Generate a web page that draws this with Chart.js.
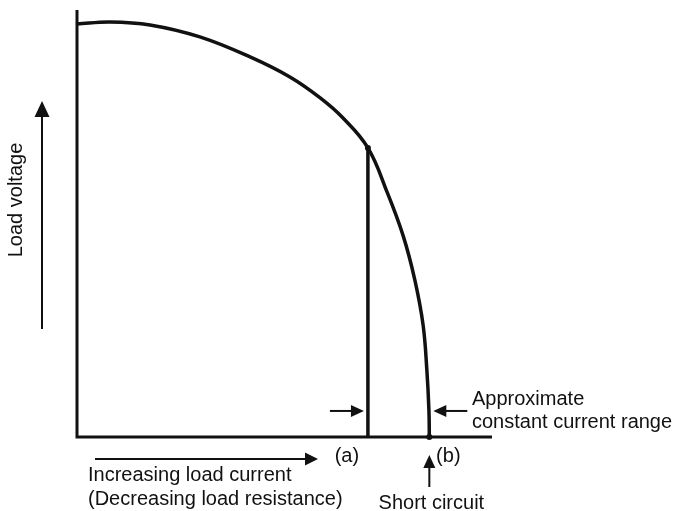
<!DOCTYPE html>
<html>
<head>
<meta charset="utf-8">
<script src="https://cdn.jsdelivr.net/npm/chart.js@4/dist/chart.umd.min.js"></script>
<style>
  html, body { margin: 0; padding: 0; background: #fff; }
  #wrap { width: 679px; height: 511px; }
</style>
</head>
<body>
<div id="wrap"><canvas id="chart" width="679" height="511"></canvas></div>
<script>
// load current (0..100, arbitrary units) vs load voltage (0..100)
const currentX = [0, 7.95, 17.6, 29.6, 41.7, 51.3, 58.6, 64.1, 70.1, 74.7, 78.6, 81.4, 83.4, 84.3, 84.8, 84.9];
const voltageY = [96.7, 97.2, 96.5, 93.7, 89.0, 84.3, 79.4, 74.7, 67.7, 57.4, 47.1, 36.8, 26.2, 15.7, 6.3, 0];

// point (a) where the constant current range starts, (b) short circuit
const pointA = { x: 70.1, y: 67.7 };
const pointB = { x: 84.9, y: 0 };
const rangeArrowY = 6.1;

const FONT = '20px "Liberation Sans", Arial, sans-serif';
const INK = '#111';

function arrow(ctx, x1, y1, x2, y2, headLen, headW) {
  const ang = Math.atan2(y2 - y1, x2 - x1);
  ctx.beginPath();
  ctx.moveTo(x1, y1);
  ctx.lineTo(x2 - Math.cos(ang) * headLen * 0.8, y2 - Math.sin(ang) * headLen * 0.8);
  ctx.stroke();
  ctx.beginPath();
  ctx.moveTo(x2, y2);
  ctx.lineTo(x2 - Math.cos(ang) * headLen - Math.sin(ang) * headW / 2,
             y2 - Math.sin(ang) * headLen + Math.cos(ang) * headW / 2);
  ctx.lineTo(x2 - Math.cos(ang) * headLen + Math.sin(ang) * headW / 2,
             y2 - Math.sin(ang) * headLen - Math.cos(ang) * headW / 2);
  ctx.closePath();
  ctx.fill();
}

const diagram = {
  id: 'diagram',
  beforeDatasetsDraw(chart) {
    const { ctx, chartArea: a } = chart;
    ctx.save();
    ctx.strokeStyle = INK;
    ctx.lineWidth = 3;
    ctx.beginPath();
    ctx.moveTo(a.left, a.top);
    ctx.lineTo(a.left, a.bottom);
    ctx.lineTo(a.right, a.bottom);
    ctx.stroke();
    ctx.restore();
  },
  afterDatasetsDraw(chart) {
    const { ctx, chartArea: a, scales } = chart;
    const xs = scales.x, ys = scales.y;
    ctx.save();
    ctx.strokeStyle = INK;
    ctx.fillStyle = INK;
    ctx.lineWidth = 2;

    // arrows marking the constant current range
    const ay = ys.getPixelForValue(rangeArrowY);
    const xa = xs.getPixelForValue(pointA.x);
    const xb = xs.getPixelForValue(pointB.x);
    arrow(ctx, xa - 38, ay, xa - 4, ay, 13, 12);
    arrow(ctx, xb + 38, ay, xb + 4, ay, 13, 12);

    // y direction arrow
    arrow(ctx, a.left - 35, 329, a.left - 35, 101, 16, 15);
    // x direction arrow
    arrow(ctx, a.left + 18, 459, 318, 459, 13, 13);
    // short circuit arrow
    arrow(ctx, xb, 487, xb, 455, 13, 12);

    ctx.font = FONT;
    ctx.textBaseline = 'alphabetic';
    ctx.textAlign = 'left';
    ctx.fillText('Approximate', 472, 405);
    ctx.fillText('constant current range', 472, 428);
    ctx.fillText('Increasing load current', 88, 481);
    ctx.fillText('(Decreasing load resistance)', 88, 505);

    ctx.textAlign = 'center';
    ctx.fillText('(a)', xa - 21, 462);
    ctx.fillText('(b)', xb + 19, 462);
    ctx.fillText('Short circuit', xb + 2, 509);

    ctx.translate(16, 200);
    ctx.rotate(-Math.PI / 2);
    ctx.textBaseline = 'middle';
    ctx.fillText('Load voltage', 0, 0);
    ctx.restore();
  }
};

new Chart(document.getElementById('chart'), {
  type: 'scatter',
  data: {
    datasets: [
      {
        data: currentX.map((x, i) => ({ x: x, y: voltageY[i] })),
        showLine: true,
        borderColor: INK,
        borderWidth: 3.5,
        tension: 0.4,
        pointRadius: 0,
        clip: false
      },
      {
        data: [{ x: pointA.x, y: 0 }, { x: pointA.x, y: pointA.y }],
        showLine: true,
        borderColor: INK,
        borderWidth: 3.5,
        pointRadius: [0, 3],
        pointBackgroundColor: INK,
        pointBorderWidth: 0,
        clip: false
      },
      {
        data: [pointB],
        pointRadius: 3,
        pointBackgroundColor: INK,
        pointBorderWidth: 0,
        clip: false
      }
    ]
  },
  options: {
    responsive: false,
    animation: false,
    layout: { padding: { left: 77, right: 187, top: 10, bottom: 74 } },
    plugins: { legend: { display: false }, tooltip: { enabled: false } },
    scales: {
      x: { type: 'linear', min: 0, max: 100, display: false },
      y: { type: 'linear', min: 0, max: 100, display: false }
    }
  },
  plugins: [diagram]
});
</script>
</body>
</html>
